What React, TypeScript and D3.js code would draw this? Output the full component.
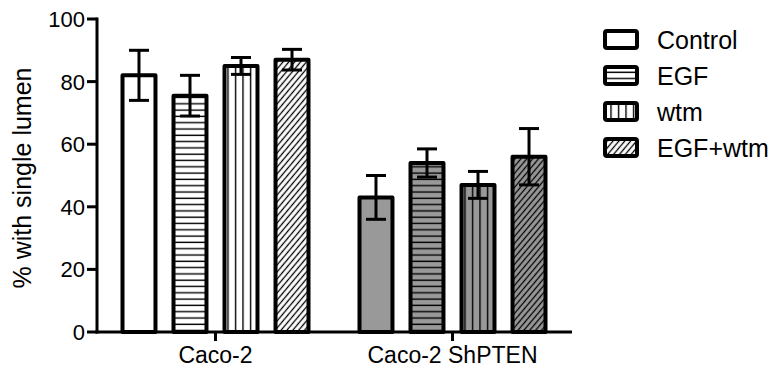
import React from "react";
import * as d3 from "d3";

const categories = ["Caco-2", "Caco-2 ShPTEN"];
const seriesNames = ["Control", "EGF", "wtm", "EGF+wtm"];
const controlValues = [82, 43];
const egfValues = [75.5, 54];
const wtmValues = [85, 47];
const egfWtmValues = [87, 56];
const controlErr = [8, 7];
const egfErr = [6.5, 4.5];
const wtmErr = [2.7, 4.3];
const egfWtmErr = [3.3, 9];
const groupFills = ["#ffffff", "#999999"];
const yTicks = [0, 20, 40, 60, 80, 100];

const seriesValues = [controlValues, egfValues, wtmValues, egfWtmValues];
const seriesErrors = [controlErr, egfErr, wtmErr, egfWtmErr];
const patternIds = [null, "pat-h", "pat-v", "pat-d"];

const W = 773;
const H = 372;
const FONT = "'Liberation Sans', Arial, Helvetica, sans-serif";

export default function App() {
  const x = d3.scaleBand<string>().domain(categories).range([97, 571]);
  const bw = x.bandwidth();
  const inner = d3
    .scaleBand<string>()
    .domain(seriesNames)
    .range([bw / 2 - 95, bw / 2 + 95])
    .paddingInner(0.275)
    .paddingOuter(0);
  const y = d3.scaleLinear().domain([0, 100]).range([332, 19]);
  const barW = inner.bandwidth();
  const sw = 4;

  return (
    <svg
      width={W}
      height={H}
      style={{ position: "absolute", left: 0, top: 0, background: "#fff" }}
      fontFamily={FONT}
    >
      <defs>
        <pattern id="pat-h" patternUnits="userSpaceOnUse" width={10} height={6.3}>
          <line x1={0} x2={10} y1={3} y2={3} stroke="#000" strokeWidth={1.4} />
        </pattern>
        <pattern id="pat-v" patternUnits="userSpaceOnUse" width={7.5} height={10}>
          <line x1={3.5} x2={3.5} y1={0} y2={10} stroke="#000" strokeWidth={1.4} />
        </pattern>
        <pattern
          id="pat-d"
          patternUnits="userSpaceOnUse"
          width={4.5}
          height={10}
          patternTransform="rotate(40)"
        >
          <line x1={2.25} x2={2.25} y1={0} y2={10} stroke="#000" strokeWidth={1.3} />
        </pattern>
      </defs>

      {/* bars */}
      {categories.map((cat, ci) => (
        <g key={cat} transform={`translate(${x(cat)},0)`}>
          {seriesNames.map((s, si) => {
            const v = seriesValues[si][ci];
            const bx = (inner(s) as number) + sw / 2;
            const by = y(v);
            const w = barW - sw;
            const h = y(0) - y(v);
            const pid = patternIds[si];
            return (
              <g key={s}>
                <rect x={bx} y={by} width={w} height={h} fill={groupFills[ci]} />
                {pid && <rect x={bx} y={by} width={w} height={h} fill={`url(#${pid})`} />}
                <rect
                  x={bx}
                  y={by}
                  width={w}
                  height={h}
                  fill="none"
                  stroke="#000"
                  strokeWidth={sw}
                  strokeLinejoin="round"
                />
              </g>
            );
          })}
        </g>
      ))}

      {/* error bars */}
      {categories.map((cat, ci) => (
        <g key={cat + "-err"} transform={`translate(${x(cat)},0)`}>
          {seriesNames.map((s, si) => {
            const v = seriesValues[si][ci];
            const e = seriesErrors[si][ci];
            const cx = (inner(s) as number) + barW / 2;
            const y1 = y(v + e);
            const y2 = y(v - e);
            return (
              <g key={s} stroke="#000" strokeWidth={3}>
                <line x1={cx} x2={cx} y1={y1} y2={y2} />
                <line x1={cx - 10} x2={cx + 10} y1={y1} y2={y1} />
                <line x1={cx - 10} x2={cx + 10} y1={y2} y2={y2} />
              </g>
            );
          })}
        </g>
      ))}

      {/* y axis */}
      <line x1={97} x2={97} y1={y(100) - 1.5} y2={y(0) + 1.5} stroke="#000" strokeWidth={3} />
      {yTicks.map((t) => (
        <g key={t}>
          <line x1={87} x2={97} y1={y(t)} y2={y(t)} stroke="#000" strokeWidth={3} />
          <text x={85} y={y(t)} dy="0.36em" textAnchor="end" fontSize={22}>
            {t}
          </text>
        </g>
      ))}

      {/* x axis */}
      <line x1={95.5} x2={572} y1={y(0)} y2={y(0)} stroke="#000" strokeWidth={3} />
      {categories.map((cat) => {
        const cx = (x(cat) as number) + bw / 2;
        return (
          <g key={cat + "-tick"}>
            <line x1={cx} x2={cx} y1={y(0)} y2={y(0) + 9} stroke="#000" strokeWidth={3} />
            <text x={cx} y={363} textAnchor="middle" fontSize={23}>
              {cat}
            </text>
          </g>
        );
      })}

      {/* y label */}
      <text
        transform={`translate(31,${178}) rotate(-90)`}
        textAnchor="middle"
        fontSize={25}
      >
        % with single lumen
      </text>

      {/* legend */}
      {seriesNames.map((s, si) => {
        const cy = 39.5 + si * 36;
        const pid = patternIds[si];
        return (
          <g key={s + "-leg"}>
            <rect x={605} y={cy - 8.5} width={32} height={17} fill="#fff" />
            {pid && (
              <rect x={605} y={cy - 8.5} width={32} height={17} fill={`url(#${pid})`} />
            )}
            <rect
              x={605}
              y={cy - 8.5}
              width={32}
              height={17}
              fill="none"
              stroke="#000"
              strokeWidth={4}
              rx={2}
            />
            <text x={657} y={cy} dy="0.36em" fontSize={25}>
              {s}
            </text>
          </g>
        );
      })}
    </svg>
  );
}
